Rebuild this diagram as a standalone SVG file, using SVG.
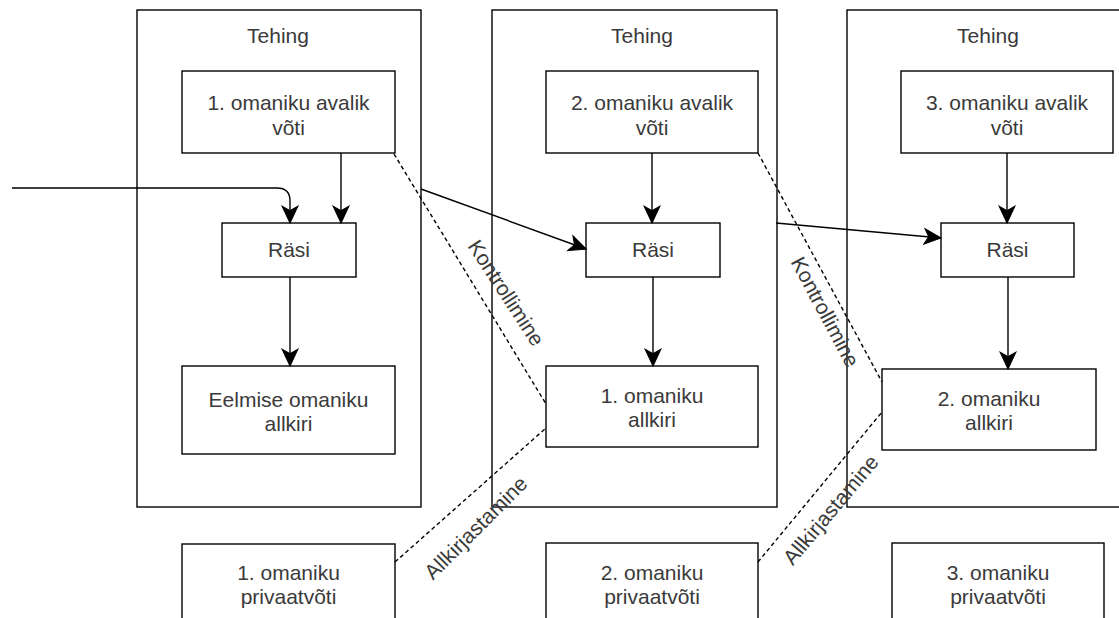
<svg xmlns="http://www.w3.org/2000/svg" width="1119" height="618" viewBox="0 0 1119 618">
<style>
.box{fill:#fff;stroke:#000;stroke-width:1.4}
.cont{fill:none;stroke:#000;stroke-width:1.4}
.t{font-family:"Liberation Sans",Arial,sans-serif;font-size:21px;fill:#3a3a3a;text-anchor:middle}
.e{fill:none;stroke:#000;stroke-width:1.4}
.d{fill:none;stroke:#000;stroke-width:1.4;stroke-dasharray:4 3}
</style>
<defs>
<marker id="arr" markerUnits="userSpaceOnUse" markerWidth="20" markerHeight="20" viewBox="-16 -8 18 16" refX="0" refY="0" orient="auto">
<path d="M0,0 L-15,-7 L-11,0 L-15,7 Z" fill="#000" stroke="#000" stroke-width="1"/>
</marker>
</defs>
<rect width="1119" height="618" fill="#fff"/>
<g id="tehing1"><rect class="cont" x="137" y="10" width="284" height="497"/><text class="t" x="278" y="43">Tehing</text></g>
<g id="tehing2"><rect class="cont" x="492" y="10" width="285" height="497"/><text class="t" x="642" y="43">Tehing</text></g>
<g id="tehing3"><rect class="cont" x="847" y="10" width="284" height="497"/><text class="t" x="988" y="43">Tehing</text></g>

<g id="avalik1"><rect class="box" x="182" y="71" width="213" height="82"/><text class="t" x="288.5" y="110">1. omaniku avalik</text><text class="t" x="288.5" y="135">võti</text></g>
<g id="avalik2"><rect class="box" x="546" y="71" width="212" height="82"/><text class="t" x="652" y="110">2. omaniku avalik</text><text class="t" x="652" y="135">võti</text></g>
<g id="avalik3"><rect class="box" x="901" y="71" width="212" height="82"/><text class="t" x="1007" y="110">3. omaniku avalik</text><text class="t" x="1007" y="135">võti</text></g>

<g id="rasi1"><rect class="box" x="222" y="223" width="134" height="54"/><text class="t" x="289" y="257">Räsi</text></g>
<g id="rasi2"><rect class="box" x="586" y="223" width="134" height="54"/><text class="t" x="653" y="257">Räsi</text></g>
<g id="rasi3"><rect class="box" x="941" y="223" width="133" height="54"/><text class="t" x="1007.5" y="257">Räsi</text></g>

<g id="allkiri0"><rect class="box" x="182" y="366" width="213" height="88"/><text class="t" x="288.5" y="407">Eelmise omaniku</text><text class="t" x="288.5" y="431">allkiri</text></g>
<g id="allkiri1"><rect class="box" x="546" y="366" width="212" height="81"/><text class="t" x="652" y="403">1. omaniku</text><text class="t" x="652" y="427">allkiri</text></g>
<g id="allkiri2"><rect class="box" x="882" y="369" width="214" height="81"/><text class="t" x="989" y="406">2. omaniku</text><text class="t" x="989" y="430">allkiri</text></g>

<g id="priv1"><rect class="box" x="182" y="544" width="213" height="81"/><text class="t" x="288.5" y="580">1. omaniku</text><text class="t" x="288.5" y="604">privaatvõti</text></g>
<g id="priv2"><rect class="box" x="546" y="543" width="212" height="81"/><text class="t" x="652" y="580">2. omaniku</text><text class="t" x="652" y="604">privaatvõti</text></g>
<g id="priv3"><rect class="box" x="892" y="543" width="212" height="81"/><text class="t" x="998" y="580">3. omaniku</text><text class="t" x="998" y="604">privaatvõti</text></g>

<g id="connectors">
<path class="e" d="M12,188 H277 Q290,188 290,201 V223" marker-end="url(#arr)"/>
<path class="e" d="M341,153 V223" marker-end="url(#arr)"/>
<path class="e" d="M290,277 V366" marker-end="url(#arr)"/>
<path class="e" d="M421,189 L586,249" marker-end="url(#arr)"/>
<path class="e" d="M652,153 V223" marker-end="url(#arr)"/>
<path class="e" d="M653,277 V366" marker-end="url(#arr)"/>
<path class="e" d="M776,223 L941,238" marker-end="url(#arr)"/>
<path class="e" d="M1007,153 V223" marker-end="url(#arr)"/>
<path class="e" d="M1008,277 V369" marker-end="url(#arr)"/>
<path class="d" d="M394,154 L546,404"/>
<path class="d" d="M395,562 L546,428"/>
<path class="d" d="M758,153 L882,382"/>
<path class="d" d="M758,562 L882,412"/>
<text class="t" transform="translate(506,293) rotate(57)" dy="7">Kontrollimine</text>
<text class="t" transform="translate(825,312) rotate(62)" dy="7">Kontrollimine</text>
<text class="t" transform="translate(476,528) rotate(-45)" dy="7">Allkirjastamine</text>
<text class="t" transform="translate(831,510) rotate(-50)" dy="7">Allkirjastamine</text>
</g>
</svg>
